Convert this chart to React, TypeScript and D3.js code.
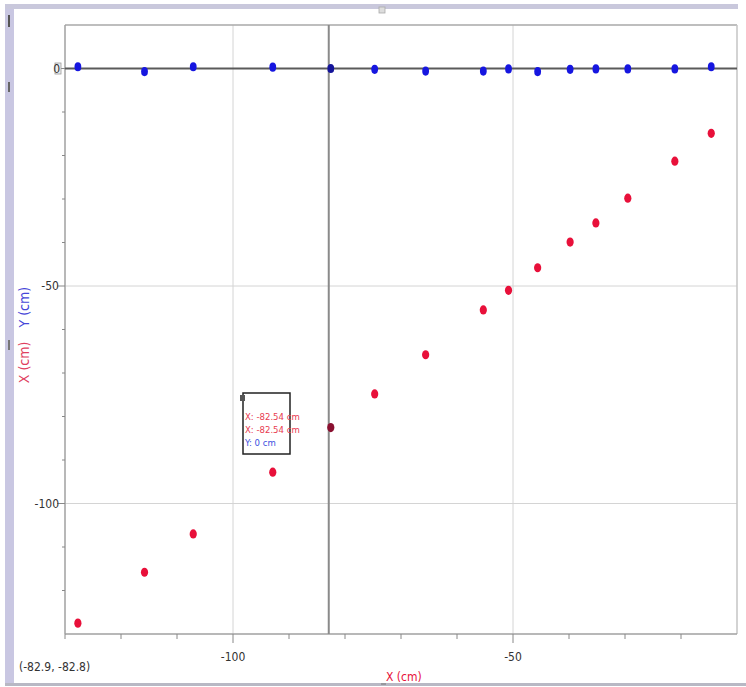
import React from "react";
import * as d3 from "d3";

const xValues = [-127.7, -115.8, -107.1, -92.9, -82.54, -74.7, -65.6, -55.3, -50.8, -45.6, -39.8, -35.2, -29.5, -21.1, -14.6];
const xSeries = [-127.5, -115.8, -107.0, -92.8, -82.54, -74.8, -65.8, -55.5, -51.0, -45.8, -39.9, -35.5, -29.8, -21.3, -14.9];
const ySeries = [0.4, -0.7, 0.4, 0.3, 0, -0.2, -0.6, -0.6, -0.1, -0.7, -0.2, -0.1, -0.1, -0.1, 0.4];
const xDomain = [-130, -10];
const yDomain = [-130, 10];
const majorTicks = [-100, -50];
const yLabelTicks = [0, -50, -100];
const cursorX = -82.9;
const cursorY = -82.8;
const tooltipLines = [
  { text: "X: -82.54 cm", color: "#e8394f" },
  { text: "X: -82.54 cm", color: "#e8394f" },
  { text: "Y: 0 cm", color: "#3a4fe0" },
];

const W = 746;
const H = 687;
const L = 65, R = 737, T = 25, B = 634;
const FONT = "'Liberation Sans Narrow', 'DejaVu Sans Condensed', 'Liberation Sans', sans-serif";
const RED = "#e8103a";
const BLUE = "#1616e0";

export default function App() {
  const x = d3.scaleLinear().domain(xDomain).range([L, R]);
  const y = d3.scaleLinear().domain(yDomain).range([B, T]);
  const minorX = d3.range(-120, -10, 10);
  const minorY = d3.range(-120, 10, 10);
  const cursorIdx = 4;
  return (
    <svg width={W} height={H} style={{ position: "fixed", left: 0, top: 0, background: "#fff" }}>
      {/* window frame */}
      <rect x={5} y={5} width={9} height={680} fill="#c9c7e2" />
      <rect x={5} y={4} width={733} height={5} fill="#c9c8dc" />
      <rect x={5} y={683} width={741} height={3} fill="#b8b8c4" />
      <rect x={8} y={15} width={2} height={12} fill="#555" />
      <rect x={8} y={82} width={2} height={10} fill="#666" />
      <rect x={8} y={340} width={2} height={10} fill="#777" />
      <rect x={379} y={7} width={6} height={6} fill="#ddd" stroke="#aaa" strokeWidth={0.8} />
      {/* gridlines */}
      {majorTicks.map((v) => (
        <line key={"gx" + v} x1={x(v)} x2={x(v)} y1={T} y2={B} stroke="#d4d4d4" strokeWidth={1} />
      ))}
      {majorTicks.map((v) => (
        <line key={"gy" + v} x1={L} x2={R} y1={y(v)} y2={y(v)} stroke="#d4d4d4" strokeWidth={1} />
      ))}
      {/* frame lines */}
      <line x1={L} x2={R} y1={T} y2={T} stroke="#a8a8a8" strokeWidth={1.5} />
      <line x1={R} x2={R} y1={T} y2={B} stroke="#c4c4c4" strokeWidth={1.5} />
      {/* axes */}
      <line x1={L} x2={L} y1={T} y2={B} stroke="#a0a0a0" strokeWidth={1.5} />
      <line x1={L} x2={R} y1={B} y2={B} stroke="#a0a0a0" strokeWidth={1.5} />
      <line x1={L} x2={R} y1={y(0)} y2={y(0)} stroke="#5a5a5a" strokeWidth={2} />
      {/* ticks */}
      {minorX.map((v) => (
        <line key={"tx" + v} x1={x(v)} x2={x(v)} y1={B} y2={B + (v % 50 === 0 ? 9 : 5)} stroke="#888" strokeWidth={1} />
      ))}
      <line x1={L} x2={L} y1={B} y2={B + 5} stroke="#888" />
      {minorY.map((v) => (
        <line key={"ty" + v} x1={L - (v % 50 === 0 ? 8 : 3)} x2={L} y1={y(v)} y2={y(v)} stroke="#888" strokeWidth={1} />
      ))}
      <rect x={55} y={63} width={6} height={11} fill="#eee" stroke="#999" strokeWidth={0.8} />
      {/* tick labels */}
      {yLabelTicks.map((v) => (
        <text key={"ly" + v} x={v === 0 ? 60 : 59} y={y(v) + 4} textAnchor="end" fontFamily={FONT} fontSize={12} fill="#333">
          {v}
        </text>
      ))}
      {majorTicks.map((v) => (
        <text key={"lx" + v} x={x(v)} y={661} textAnchor="middle" fontFamily={FONT} fontSize={12} fill="#333">
          {v}
        </text>
      ))}
      {/* axis titles */}
      <text transform="translate(29,335) rotate(-90)" textAnchor="middle" fontFamily={FONT} fontSize={14}>
        <tspan fill="#e0405e">X (cm)</tspan>
        <tspan dx={14} fill="#4646d8">Y (cm)</tspan>
      </text>
      <line x1={381} x2={386} y1={684} y2={684} stroke="#777" />
      <text x={386} y={681} fontFamily={FONT} fontSize={12} fill={RED}>
        X (cm)
      </text>
      <text x={19} y={671} fontFamily={FONT} fontSize={12} fill="#333">
        ({cursorX}, {cursorY})
      </text>
      {/* cursor */}
      <line x1={x(cursorX)} x2={x(cursorX)} y1={T} y2={B} stroke="#8a8a8a" strokeWidth={2} />
      {/* points */}
      {xValues.map((v, i) => (
        <ellipse key={"r" + i} cx={x(v)} cy={y(xSeries[i])} rx={3.6} ry={4.6} fill={i === cursorIdx ? "#8a1030" : RED} />
      ))}
      {xValues.map((v, i) => (
        <ellipse key={"b" + i} cx={x(v)} cy={y(ySeries[i])} rx={3.4} ry={4.6} fill={i === cursorIdx ? "#14149a" : BLUE} />
      ))}
      {/* tooltip */}
      <g>
        <rect x={243} y={393} width={47} height={61} fill="#fff" stroke="#222" strokeWidth={1.5} />
        <rect x={240} y={395} width={5} height={6} fill="#555" />
        {tooltipLines.map((l, i) => (
          <text key={"tt" + i} x={245} y={420 + i * 13} fontFamily={FONT} fontSize={9.5} fill={l.color}>
            {l.text}
          </text>
        ))}
      </g>
    </svg>
  );
}
